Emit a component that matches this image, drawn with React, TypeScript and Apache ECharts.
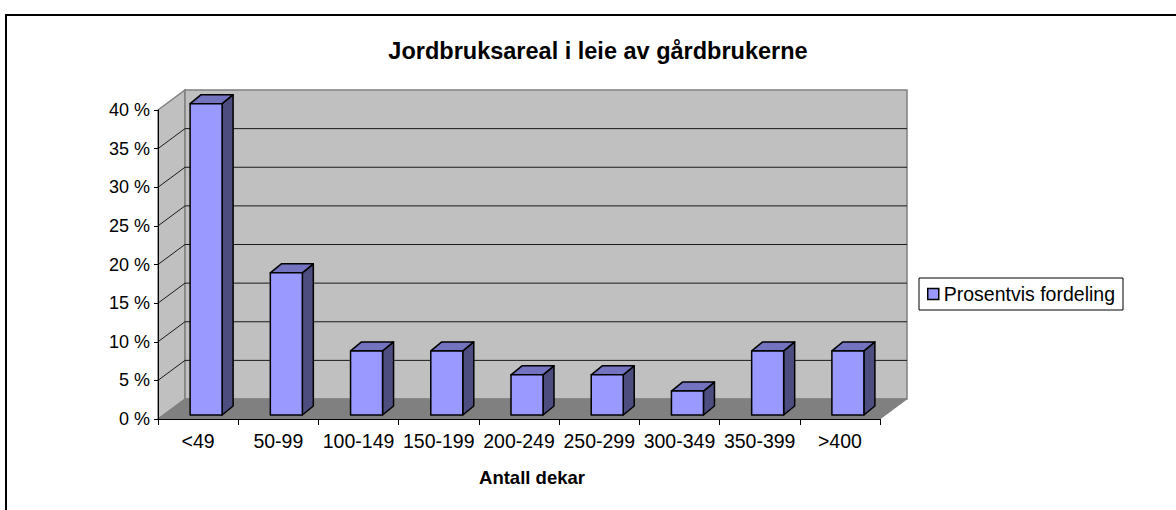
import React, { useEffect, useRef } from "react";
import * as echarts from "echarts";

const titleText = "Jordbruksareal i leie av gårdbrukerne";
const xAxisTitle = "Antall dekar";
const seriesName = "Prosentvis fordeling";
const categories = ["<49", "50-99", "100-149", "150-199", "200-249", "250-299", "300-349", "350-399", ">400"];
const values = [40.3, 18.4, 8.3, 8.3, 5.2, 5.2, 3.1, 8.3, 8.3];
const ticks = [5, 10, 15, 20, 25, 30, 35, 40];

const DX = 27;
const DY = -20;

export default function App() {
  const ref = useRef<HTMLDivElement>(null);
  useEffect(() => {
    document.body.style.margin = "0";
    const chart = echarts.init(ref.current!, undefined, { renderer: "svg" });
    const font = "Liberation Sans";
    chart.setOption({
      animation: false,
      backgroundColor: "#fff",
      textStyle: { fontFamily: font },
      title: {
        text: titleText,
        left: 593,
        top: 34,
        textAlign: "center",
        textStyle: { fontFamily: font, fontSize: 23.5, fontWeight: "bold", color: "#000" },
      },
      legend: {
        data: [{ name: seriesName, icon: "rect" }],
        left: 919,
        top: 278,
        orient: "vertical",
        itemWidth: 11,
        itemHeight: 11,
        itemGap: 0,
        padding: [6, 8, 6, 8],
        borderColor: "#000",
        borderWidth: 1,
        backgroundColor: "#fff",
        textStyle: { fontFamily: font, fontSize: 19.5, color: "#000" },
        itemStyle: { color: "#9999FF", borderColor: "#000", borderWidth: 1.5 },
      },
      grid: { left: 158, top: 110, width: 722, height: 309, containLabel: false },
      xAxis: {
        type: "category",
        data: categories,
        boundaryGap: true,
        name: xAxisTitle,
        nameLocation: "middle",
        nameGap: 49,
        nameTextStyle: { fontFamily: font, fontSize: 18.5, fontWeight: "bold", color: "#000", padding: [0, 0, 0, 26] },
        axisLine: { show: true, lineStyle: { color: "#000", width: 1 } },
        axisTick: { show: true, length: 6, alignWithLabel: false, lineStyle: { color: "#000" } },
        axisLabel: { interval: 0, margin: 12, hideOverlap: false, fontFamily: font, fontSize: 19.5, color: "#000" },
        splitLine: { show: false },
        z: 5,
      },
      yAxis: {
        type: "value",
        min: 0,
        max: 40,
        interval: 5,
        axisLine: { show: true, lineStyle: { color: "#000", width: 1 } },
        axisTick: { show: true, length: 4, lineStyle: { color: "#000" } },
        axisLabel: { formatter: "{value} %", margin: 8, fontFamily: font, fontSize: 18, color: "#000" },
        splitLine: { show: false },
        z: 5,
      },
      series: [
        {
          type: "custom",
          name: "walls",
          silent: true,
          z: 1,
          data: [0],
          renderItem: (_p: any, api: any) => {
            const bl = api.coord([0, 0]);
            const tl = api.coord([0, 40]);
            const size = api.size([1, 0]);
            const lx = bl[0] - size[0] / 2;
            const rx = lx + size[0] * categories.length;
            const by = bl[1];
            const ty = tl[1];
            const grey = { fill: "#C0C0C0", stroke: "#808080", lineWidth: 1.5 };
            return {
              type: "group",
              children: [
                { type: "polygon", shape: { points: [[lx, ty], [lx + DX, ty + DY], [lx + DX, by + DY], [lx, by]] }, style: grey },
                { type: "rect", shape: { x: lx + DX, y: ty + DY, width: rx - lx, height: by - ty }, style: grey },
                { type: "polygon", shape: { points: [[lx, by], [lx + DX, by + DY], [rx + DX, by + DY], [rx, by]] }, style: { fill: "#808080", stroke: "#808080", lineWidth: 1 } },
              ],
            };
          },
        },
        {
          type: "custom",
          name: "gridlines",
          silent: true,
          z: 2,
          data: ticks.map((t) => [t]),
          encode: { y: 0 },
          renderItem: (_p: any, api: any) => {
            const v = api.value(0);
            if (v === 40) return { type: "group", children: [] };
            const pt = api.coord([0, v]);
            const size = api.size([1, 0]);
            const lx = pt[0] - size[0] / 2;
            const rx = lx + size[0] * categories.length;
            return {
              type: "polyline",
              shape: { points: [[lx, pt[1]], [lx + DX, pt[1] + DY], [rx + DX, pt[1] + DY]] },
              style: { fill: "none", stroke: "#1a1a1a", lineWidth: 1 },
            };
          },
        },
        {
          type: "custom",
          name: seriesName,
          z: 3,
          itemStyle: { color: "#9999FF" },
          data: values.map((v, i) => [i, v]),
          encode: { x: 0, y: 1 },
          renderItem: (_p: any, api: any) => {
            const i = api.value(0);
            const top = api.coord([i, api.value(1)]);
            const base = api.coord([i, 0]);
            const ox = 8;
            const oy = -4;
            const w = 32;
            const dx = 11;
            const dy = -9;
            const x0 = top[0] + ox - w / 2;
            const x1 = x0 + w;
            const yt = top[1] + oy;
            const yb = base[1] + oy;
            const edge = { stroke: "#000", lineWidth: 1.5, lineJoin: "round" };
            return {
              type: "group",
              children: [
                { type: "polygon", shape: { points: [[x1, yt], [x1 + dx, yt + dy], [x1 + dx, yb + dy], [x1, yb]] }, style: { fill: "#4D4D80", ...edge } },
                { type: "polygon", shape: { points: [[x0, yt], [x0 + dx, yt + dy], [x1 + dx, yt + dy], [x1, yt]] }, style: { fill: "#7373BF", ...edge } },
                { type: "rect", shape: { x: x0, y: yt, width: w, height: yb - yt }, style: { fill: "#9999FF", ...edge } },
              ],
            };
          },
        },
      ],
      graphic: [
        {
          type: "polyline",
          silent: true,
          shape: { points: [[6, 510], [6, 15], [1176, 15]] },
          style: { fill: "none", stroke: "#000", lineWidth: 2 },
        },
      ],
    });
    return () => chart.dispose();
  }, []);
  return <div ref={ref} style={{ width: 1176, height: 510 }} />;
}
